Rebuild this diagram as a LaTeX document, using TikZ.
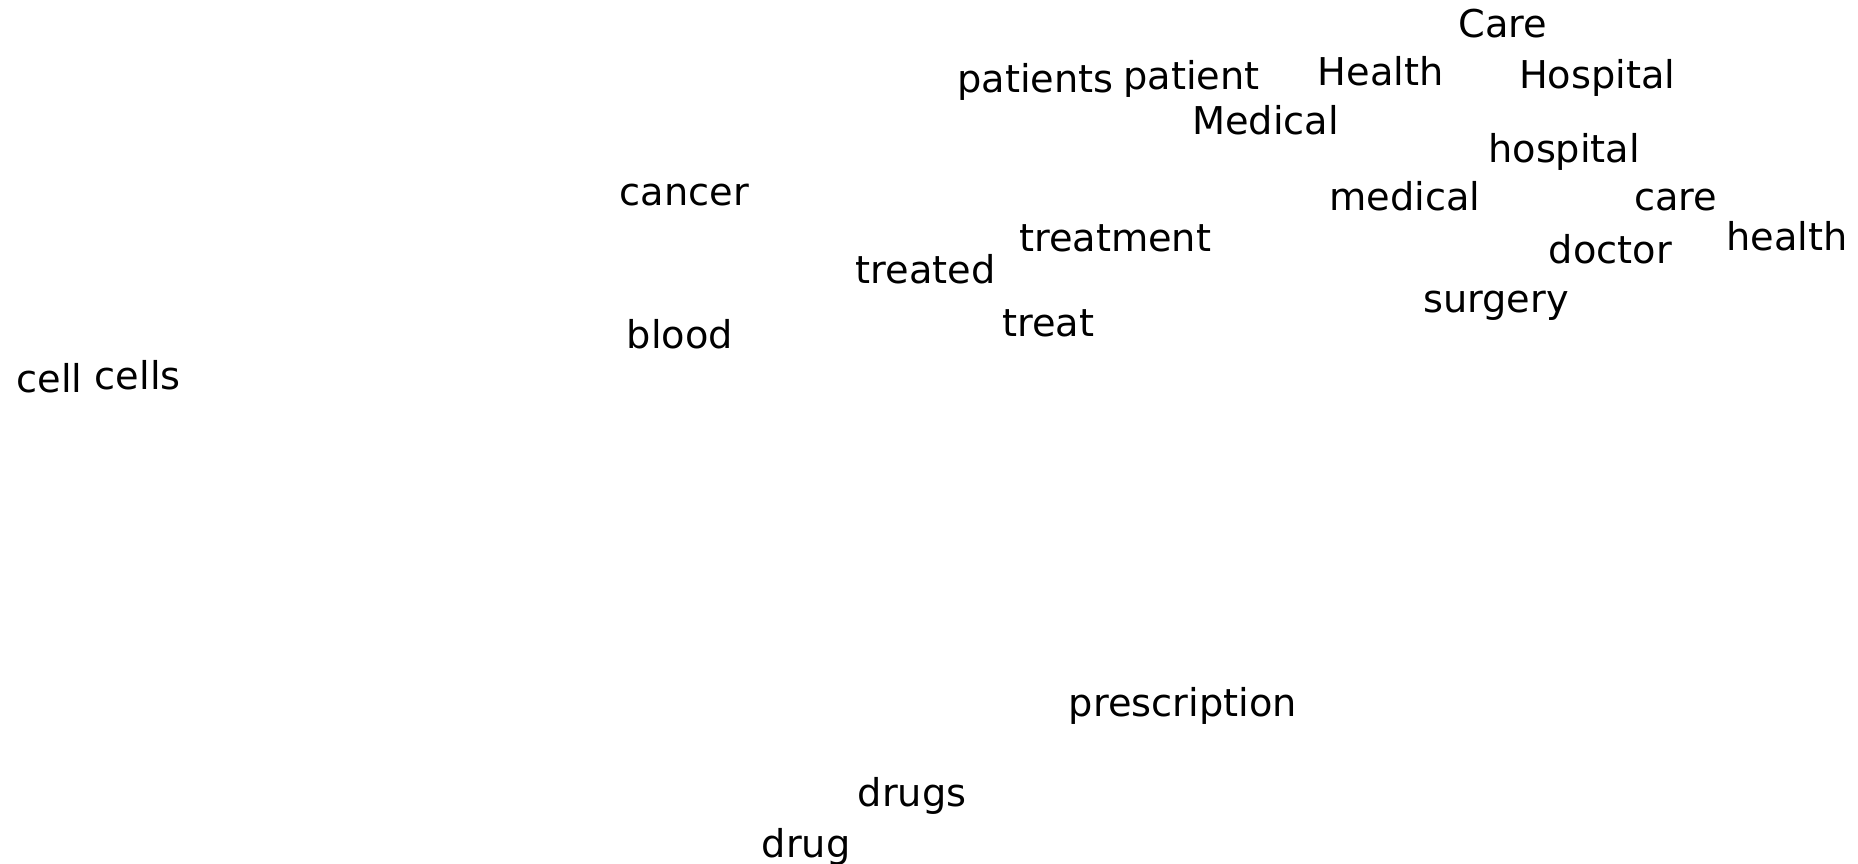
\documentclass[tikz,border=0pt]{standalone}
\usepackage{fontspec}
\setmainfont{DejaVu Sans}
\begin{document}
\begin{tikzpicture}[x=1.185pt,y=-1.185pt,
  word/.style={anchor=base west,inner sep=0pt,outer sep=0pt,font=\fontsize{38.3pt}{41pt}\selectfont,text=black}]
\useasboundingbox[fill=white] (0,0) rectangle (1568,729);
\begin{scope}[yshift=-1.6pt]
\node[word] (Care) at (1231,30) {Care};
\node[word] (patients) at (808,77) {patients};
\node[word] (patient) at (948,74) {patient};
\node[word] (Health) at (1112,71) {Health};
\node[word] (Hospital) at (1282,73) {Hospital};
\node[word] (Medical) at (1006,112) {Medical};
\node[word] (hospital) at (1256,136) {hospital};
\node[word] (cancer) at (523,172) {cancer};
\node[word] (medical) at (1122,176) {medical};
\node[word] (care) at (1379,176) {care};
\node[word] (treatment) at (860,211) {treatment};
\node[word] (health) at (1457,210) {health};
\node[word] (treated) at (722,238) {treated};
\node[word] (doctor) at (1307,221) {doctor};
\node[word] (surgery) at (1201,262) {surgery};
\node[word] (blood) at (529,293) {blood};
\node[word] (treat) at (846,283) {treat};
\node[word] (cell) at (14,330) {cell};
\node[word] (cells) at (80,327) {cells};
\node[word] (prescription) at (902,603) {prescription};
\node[word] (drugs) at (724,679) {drugs};
\node[word] (drug) at (643,722) {drug};
\end{scope}
\end{tikzpicture}
\end{document}
